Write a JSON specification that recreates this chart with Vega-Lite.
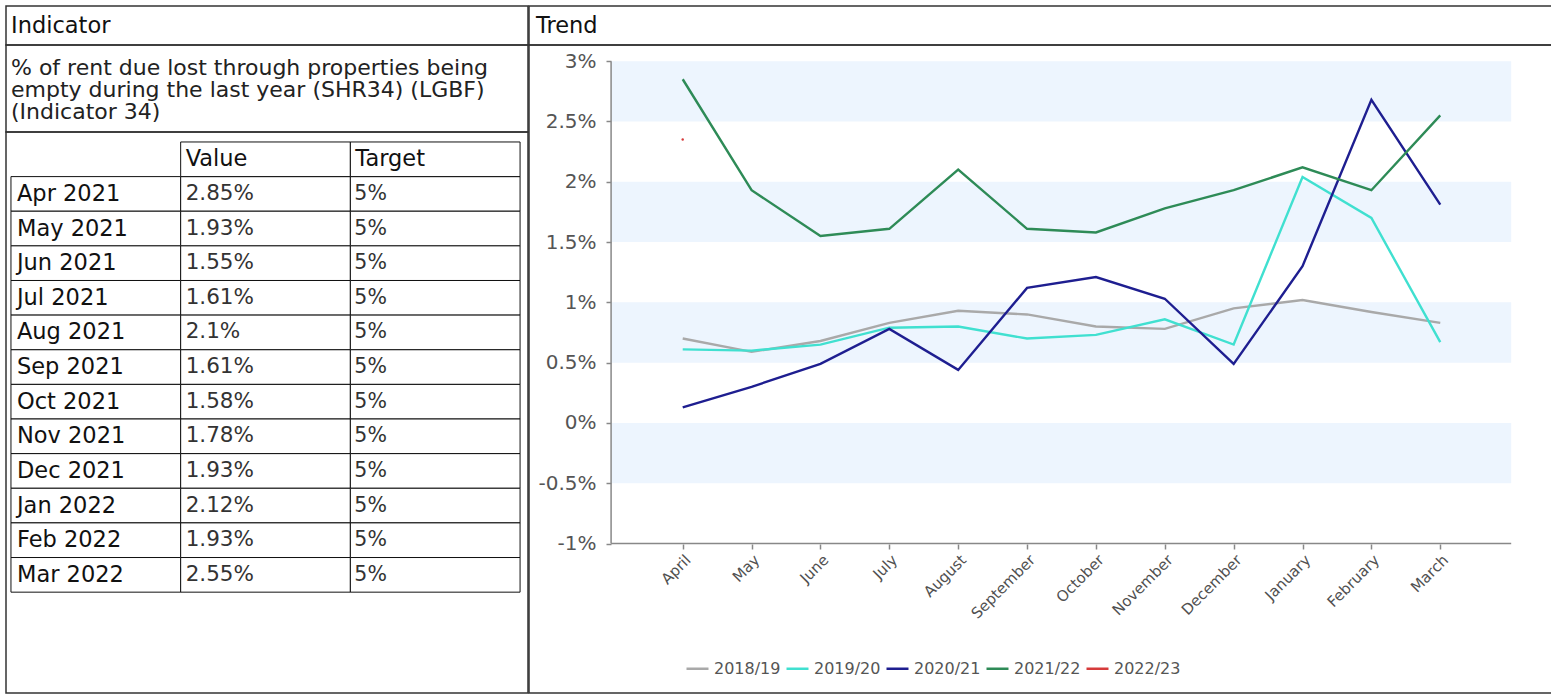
{
  "$schema": "https://vega.github.io/schema/vega-lite/v6.json",
  "padding": {"left": 5, "top": 5, "right": 0, "bottom": 0},
  "background": "white",
  "spacing": -2,
  "config": {
    "view": {"stroke": "#333333", "strokeWidth": 1.5},
    "font": "DejaVu Sans"
  },
  "datasets": {
    "trend": [
      {"series": "2018/19", "m": 1, "value": 0.70}, {"series": "2018/19", "m": 2, "value": 0.59}, {"series": "2018/19", "m": 3, "value": 0.68}, {"series": "2018/19", "m": 4, "value": 0.83}, {"series": "2018/19", "m": 5, "value": 0.93}, {"series": "2018/19", "m": 6, "value": 0.90}, {"series": "2018/19", "m": 7, "value": 0.80}, {"series": "2018/19", "m": 8, "value": 0.78}, {"series": "2018/19", "m": 9, "value": 0.95}, {"series": "2018/19", "m": 10, "value": 1.02}, {"series": "2018/19", "m": 11, "value": 0.92}, {"series": "2018/19", "m": 12, "value": 0.83},
      {"series": "2019/20", "m": 1, "value": 0.61}, {"series": "2019/20", "m": 2, "value": 0.60}, {"series": "2019/20", "m": 3, "value": 0.65}, {"series": "2019/20", "m": 4, "value": 0.79}, {"series": "2019/20", "m": 5, "value": 0.80}, {"series": "2019/20", "m": 6, "value": 0.70}, {"series": "2019/20", "m": 7, "value": 0.73}, {"series": "2019/20", "m": 8, "value": 0.86}, {"series": "2019/20", "m": 9, "value": 0.65}, {"series": "2019/20", "m": 10, "value": 2.04}, {"series": "2019/20", "m": 11, "value": 1.70}, {"series": "2019/20", "m": 12, "value": 0.67},
      {"series": "2020/21", "m": 1, "value": 0.13}, {"series": "2020/21", "m": 2, "value": 0.30}, {"series": "2020/21", "m": 3, "value": 0.49}, {"series": "2020/21", "m": 4, "value": 0.78}, {"series": "2020/21", "m": 5, "value": 0.44}, {"series": "2020/21", "m": 6, "value": 1.12}, {"series": "2020/21", "m": 7, "value": 1.21}, {"series": "2020/21", "m": 8, "value": 1.03}, {"series": "2020/21", "m": 9, "value": 0.49}, {"series": "2020/21", "m": 10, "value": 1.30}, {"series": "2020/21", "m": 11, "value": 2.68}, {"series": "2020/21", "m": 12, "value": 1.81},
      {"series": "2021/22", "m": 1, "value": 2.85}, {"series": "2021/22", "m": 2, "value": 1.93}, {"series": "2021/22", "m": 3, "value": 1.55}, {"series": "2021/22", "m": 4, "value": 1.61}, {"series": "2021/22", "m": 5, "value": 2.10}, {"series": "2021/22", "m": 6, "value": 1.61}, {"series": "2021/22", "m": 7, "value": 1.58}, {"series": "2021/22", "m": 8, "value": 1.78}, {"series": "2021/22", "m": 9, "value": 1.93}, {"series": "2021/22", "m": 10, "value": 2.12}, {"series": "2021/22", "m": 11, "value": 1.93}, {"series": "2021/22", "m": 12, "value": 2.55},
      {"series": "2022/23", "m": 1, "value": 2.35}
    ],
    "bands": [
      {"lo": 2.5, "hi": 3}, {"lo": 1.5, "hi": 2}, {"lo": 0.5, "hi": 1}, {"lo": -0.5, "hi": 0}
    ],
    "table": [
      {"month": "Apr 2021", "value": "2.85%", "target": "5%"},
      {"month": "May 2021", "value": "1.93%", "target": "5%"},
      {"month": "Jun 2021", "value": "1.55%", "target": "5%"},
      {"month": "Jul 2021", "value": "1.61%", "target": "5%"},
      {"month": "Aug 2021", "value": "2.1%", "target": "5%"},
      {"month": "Sep 2021", "value": "1.61%", "target": "5%"},
      {"month": "Oct 2021", "value": "1.58%", "target": "5%"},
      {"month": "Nov 2021", "value": "1.78%", "target": "5%"},
      {"month": "Dec 2021", "value": "1.93%", "target": "5%"},
      {"month": "Jan 2022", "value": "2.12%", "target": "5%"},
      {"month": "Feb 2022", "value": "1.93%", "target": "5%"},
      {"month": "Mar 2022", "value": "2.55%", "target": "5%"}
    ],
    "tableHeader": [
      {"col": "value", "label": "Value"},
      {"col": "target", "label": "Target"}
    ]
  },
  "hconcat": [
    {
      "spacing": 0,
      "bounds": "flush",
      "vconcat": [
        {
          "width": 522, "height": 39,
          "data": {"values": [{"h": "Indicator"}]},
          "mark": {"type": "text", "align": "left", "baseline": "middle", "dx": 5, "fontSize": 22.5, "color": "#111111"},
          "encoding": {
            "x": {"datum": 0, "type": "quantitative", "scale": {"domain": [0, 1]}, "axis": null},
            "y": {"datum": 0.5, "type": "quantitative", "scale": {"domain": [0, 1]}, "axis": null},
            "text": {"field": "h"}
          }
        },
        {
          "width": 522, "height": 87,
          "data": {"values": [{"desc": "% of rent due lost through properties being\nempty during the last year (SHR34) (LGBF)\n(Indicator 34)"}]},
          "mark": {"type": "text", "align": "left", "baseline": "middle", "dx": 5, "fontSize": 22, "lineHeight": 22, "lineBreak": "\n", "color": "#222222"},
          "encoding": {
            "x": {"datum": 0, "type": "quantitative", "scale": {"domain": [0, 1]}, "axis": null},
            "y": {"datum": 0.73, "type": "quantitative", "scale": {"domain": [0, 1]}, "axis": null},
            "text": {"field": "desc"}
          }
        },
        {
          "width": 522, "height": 561,
          "layer": [
            {
              "data": {"name": "table"},
              "mark": {"type": "rect", "fill": "white", "stroke": "#111111", "strokeWidth": 1},
              "encoding": {
                "x": {"datum": "month", "type": "nominal", "scale": {"domain": ["month", "value", "target"], "paddingInner": 0, "paddingOuter": 0.038, "align": 0.385}, "axis": null},
                "y": {"field": "month", "type": "nominal", "scale": {"domain": ["hdr", "Apr 2021", "May 2021", "Jun 2021", "Jul 2021", "Aug 2021", "Sep 2021", "Oct 2021", "Nov 2021", "Dec 2021", "Jan 2022", "Feb 2022", "Mar 2022", "spare1", "spare2"], "paddingInner": 0, "paddingOuter": 0.6, "align": 0.24}, "axis": null}
              }
            },
            {
              "data": {"name": "table"},
              "mark": {"type": "rect", "fill": "white", "stroke": "#111111", "strokeWidth": 1},
              "encoding": {
                "x": {"datum": "value", "type": "nominal"},
                "y": {"field": "month", "type": "nominal"}
              }
            },
            {
              "data": {"name": "table"},
              "mark": {"type": "rect", "fill": "white", "stroke": "#111111", "strokeWidth": 1},
              "encoding": {
                "x": {"datum": "target", "type": "nominal"},
                "y": {"field": "month", "type": "nominal"}
              }
            },
            {
              "data": {"name": "tableHeader"},
              "mark": {"type": "rect", "fill": "white", "stroke": "#111111", "strokeWidth": 1},
              "encoding": {
                "x": {"field": "col", "type": "nominal"},
                "y": {"datum": "hdr", "type": "nominal"}
              }
            },
            {
              "data": {"name": "tableHeader"},
              "mark": {"type": "text", "align": "left", "baseline": "middle", "dx": 5, "fontSize": 22.5, "color": "#111111"},
              "encoding": {
                "x": {"field": "col", "type": "nominal", "bandPosition": 0},
                "y": {"datum": "hdr", "type": "nominal"},
                "text": {"field": "label"}
              }
            },
            {
              "data": {"name": "table"},
              "mark": {"type": "text", "align": "left", "baseline": "middle", "dx": 6, "fontSize": 22.5, "color": "#111111"},
              "encoding": {
                "x": {"datum": "month", "type": "nominal", "bandPosition": 0},
                "y": {"field": "month", "type": "nominal"},
                "text": {"field": "month"}
              }
            },
            {
              "data": {"name": "table"},
              "mark": {"type": "text", "align": "left", "baseline": "middle", "dx": 5, "fontSize": 21.5, "color": "#333333"},
              "encoding": {
                "x": {"datum": "value", "type": "nominal", "bandPosition": 0},
                "y": {"field": "month", "type": "nominal"},
                "text": {"field": "value"}
              }
            },
            {
              "data": {"name": "table"},
              "mark": {"type": "text", "align": "left", "baseline": "middle", "dx": 4, "fontSize": 20.5, "color": "#333333"},
              "encoding": {
                "x": {"datum": "target", "type": "nominal", "bandPosition": 0},
                "y": {"field": "month", "type": "nominal"},
                "text": {"field": "target"}
              }
            }
          ]
        }
      ]
    },
    {
      "spacing": 0,
      "bounds": "flush",
      "vconcat": [
        {
          "width": 1024, "height": 39,
          "data": {"values": [{"h": "Trend"}]},
          "mark": {"type": "text", "align": "left", "baseline": "middle", "dx": 7, "fontSize": 22.5, "color": "#111111"},
          "encoding": {
            "x": {"datum": 0, "type": "quantitative", "scale": {"domain": [0, 1]}, "axis": null},
            "y": {"datum": 0.5, "type": "quantitative", "scale": {"domain": [0, 1]}, "axis": null},
            "text": {"field": "h"}
          }
        },
        {
          "width": 1024, "height": 648,
          "layer": [
            {
              "data": {"name": "bands"},
              "mark": {"type": "rect", "color": "#EDF5FE"},
              "encoding": {
                "x": {"datum": -0.04, "type": "quantitative",
                  "scale": {"domain": [-1.232, 13.637], "nice": false, "zero": false},
                  "axis": {"orient": "bottom", "offset": -149, "values": [1, 2, 3, 4, 5, 6, 7, 8, 9, 10, 11, 12],
                    "labelExpr": "['','April','May','June','July','August','September','October','November','December','January','February','March'][datum.value]",
                    "labelAngle": -45, "labelOverlap": false, "domain": false, "grid": false, "tickSize": 5, "tickColor": "#888888", "tickWidth": 1.5,
                    "labelFontSize": 15, "labelColor": "#505050", "title": null, "labelPadding": 3}},
                "x2": {"datum": 13.03},
                "y": {"field": "lo", "type": "quantitative",
                  "scale": {"domain": [-2.239, 3.134], "nice": false, "zero": false},
                  "axis": {"orient": "left", "offset": -82, "values": [-1, -0.5, 0, 0.5, 1, 1.5, 2, 2.5, 3],
                    "labelExpr": "datum.value + '%'", "labelOverlap": false, "domain": false, "grid": false, "tickSize": 5, "tickColor": "#888888", "tickWidth": 1.5,
                    "labelFontSize": 20, "labelColor": "#555555", "title": null, "labelPadding": 10}},
                "y2": {"field": "hi"}
              }
            },
            {
              "data": {"values": [{}]},
              "mark": {"type": "rule", "color": "#888888", "strokeWidth": 1.5},
              "encoding": {
                "x": {"datum": -0.04, "type": "quantitative"},
                "y": {"datum": -1, "type": "quantitative"},
                "y2": {"datum": 3}
              }
            },
            {
              "data": {"values": [{}]},
              "mark": {"type": "rule", "color": "#888888", "strokeWidth": 1.5},
              "encoding": {
                "x": {"datum": -0.04, "type": "quantitative"},
                "x2": {"datum": 13.03},
                "y": {"datum": -1, "type": "quantitative"}
              }
            },
            {
              "data": {"name": "trend"},
              "mark": {"type": "line", "strokeWidth": 2.4},
              "encoding": {
                "x": {"field": "m", "type": "quantitative"},
                "y": {"field": "value", "type": "quantitative"},
                "color": {"field": "series", "type": "nominal",
                  "scale": {"domain": ["2018/19", "2019/20", "2020/21", "2021/22", "2022/23"], "range": ["#A9A9A9", "#40E0D0", "#1E1E90", "#2E8B57", "#D63B3B"]},
                  "legend": {"orient": "none", "legendX": 679, "legendY": 650, "direction": "horizontal", "columns": 5,
                    "symbolType": "stroke", "symbolSize": 484, "symbolStrokeWidth": 2.5, "labelFontSize": 16,
                    "labelColor": "#555555", "title": null, "columnPadding": 0, "labelOffset": 4}}
              }
            },
            {
              "data": {"name": "trend"},
              "transform": [{"filter": "datum.series === '2022/23'"}],
              "mark": {"type": "point", "filled": true, "size": 6, "opacity": 1},
              "encoding": {
                "x": {"field": "m", "type": "quantitative"},
                "y": {"field": "value", "type": "quantitative"},
                "color": {"field": "series", "type": "nominal"}
              }
            }
          ]
        }
      ]
    }
  ]
}
